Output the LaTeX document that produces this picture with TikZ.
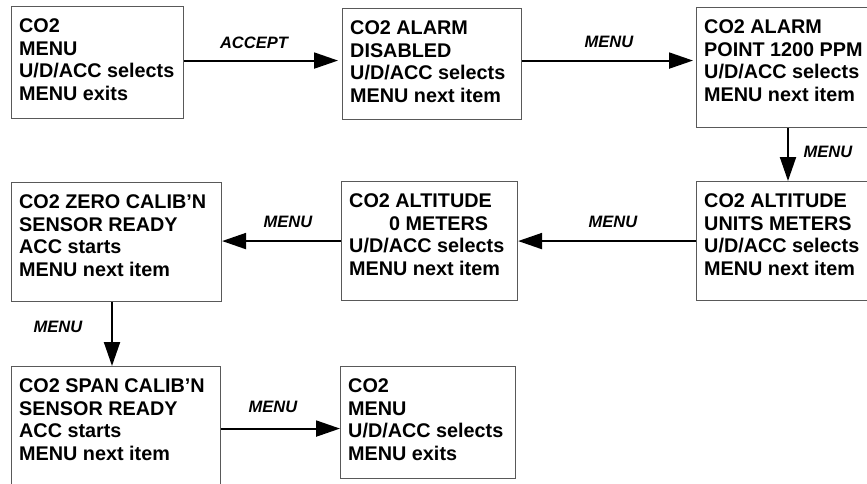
\documentclass[tikz,border=0pt]{standalone}
\usepackage{fontspec}
\setmainfont{Liberation Sans}
\usetikzlibrary{arrows.meta,calc}
\begin{document}
\begin{tikzpicture}[x=1pt,y=-1pt,
  box/.style={draw=black!65, line width=1.1pt, anchor=north west, inner sep=0pt},
  txt/.style={anchor=north west, inner sep=0pt, align=left, font=\fontsize{19.8}{22.6}\selectfont\bfseries},
  lbl/.style={inner sep=0pt, font=\fontsize{16.5}{18}\selectfont\bfseries\itshape},
  arr/.style={line width=2pt, -{Triangle[length=24pt,width=16pt]}}]
\clip (0,0) rectangle (867,483);
% boxes
\node[box, minimum width=172pt, minimum height=112pt] (b1) at (11,6) {};
\node[box, minimum width=179pt, minimum height=111pt] (b2) at (342,8) {};
\node[box, minimum width=200pt, minimum height=120pt] (b3) at (696,7) {};
\node[box, minimum width=200pt, minimum height=119pt] (b6) at (696,181) {};
\node[box, minimum width=176pt, minimum height=119pt] (b5) at (341,181) {};
\node[box, minimum width=210pt, minimum height=119pt] (b4) at (11,182) {};
\node[box, minimum width=209pt, minimum height=150pt] (b7) at (11,366) {};
\node[box, minimum width=175pt, minimum height=112pt] (b8) at (340,366) {};
% texts
\node[txt] (t1) at ($(b1.north west)+(8,12.4)$) {CO2\\MENU\\U/D/ACC selects\\MENU exits};
\node[txt] (t2) at ($(b2.north west)+(8,12.4)$) {CO2 ALARM\\DISABLED\\U/D/ACC selects\\MENU next item};
\node[txt] (t3) at ($(b3.north west)+(8,12.4)$) {CO2 ALARM\\POINT 1200 PPM\\U/D/ACC selects\\MENU next item};
\node[txt] (t6) at ($(b6.north west)+(8,12.4)$) {CO2 ALTITUDE\\UNITS METERS\\U/D/ACC selects\\MENU next item};
\node[txt] (t5) at ($(b5.north west)+(8,12.4)$) {CO2 ALTITUDE\\\hspace*{40pt}0 METERS\\U/D/ACC selects\\MENU next item};
\node[txt] (t4) at ($(b4.north west)+(8,12.4)$) {CO2 ZERO CALIB'N\\SENSOR READY\\ACC starts\\MENU next item};
\node[txt] (t7) at ($(b7.north west)+(8,12.4)$) {CO2 SPAN CALIB'N\\SENSOR READY\\ACC starts\\MENU next item};
\node[txt] (t8) at ($(b8.north west)+(8,12.4)$) {CO2\\MENU\\U/D/ACC selects\\MENU exits};
% connectors
\draw[arr, shorten >=4pt] ([yshift=2pt]b1.east) -- ([yshift=2pt]b1.east -| b2.west);
\draw[arr, shorten >=3pt] ([yshift=3.5pt]b2.east) -- ([yshift=3.5pt]b2.east -| b3.west);
\draw[arr] ([xshift=92pt]b3.south west) -- ([xshift=92pt]b6.north west);
\draw[arr] (b6.west) -- (b6.west -| b5.east);
\draw[arr] (b5.west) -- (b5.west -| b4.east);
\draw[arr] ([xshift=101pt]b4.south west) -- ([xshift=101pt]b7.north west);
\draw[arr] ([yshift=-6pt]b8.west -| b7.east) -- ([yshift=-6pt]b8.west);
% labels
\node[lbl] (l1) at (254,43) {ACCEPT};
\node[lbl] (l2) at (609,42) {MENU};
\node[lbl] (l3) at (828,152) {MENU};
\node[lbl] (l4) at (613,222) {MENU};
\node[lbl] (l5) at (288,222) {MENU};
\node[lbl] (l6) at (58,327) {MENU};
\node[lbl] (l7) at (273,407) {MENU};
\end{tikzpicture}
\end{document}
